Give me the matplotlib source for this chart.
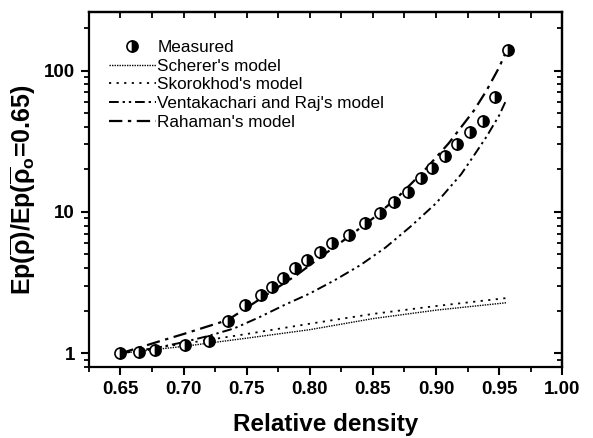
import matplotlib
matplotlib.use("Agg")
import matplotlib.pyplot as plt
from matplotlib.ticker import MultipleLocator, LogLocator, NullFormatter, FixedLocator

plt.rcParams["font.family"] = ["Liberation Sans", "DejaVu Sans"]
plt.rcParams["mathtext.fontset"] = "custom"
plt.rcParams["mathtext.rm"] = "Liberation Sans:bold"
plt.rcParams["mathtext.it"] = "Liberation Sans:bold"
plt.rcParams["mathtext.bf"] = "Liberation Sans:bold"

# Measured normalized modulus
measured_x = [0.650, 0.665, 0.677, 0.701, 0.720, 0.735, 0.749, 0.761, 0.770, 0.779,
              0.788, 0.798, 0.808, 0.818, 0.831, 0.844, 0.856, 0.867, 0.878, 0.888,
              0.897, 0.907, 0.917, 0.927, 0.937, 0.947, 0.957]
measured_y = [1.00, 1.03, 1.06, 1.14, 1.22, 1.69, 2.19, 2.60, 2.95, 3.40,
              4.00, 4.55, 5.20, 6.00, 6.90, 8.30, 9.80, 11.8, 13.9, 17.3,
              20.6, 24.7, 30.0, 36.5, 44.0, 65.0, 140.0]

# Model curves
scherer_x = [0.65, 0.70, 0.75, 0.80, 0.85, 0.90, 0.956]
scherer_y = [1.00, 1.12, 1.28, 1.47, 1.76, 2.02, 2.28]

skorokhod_x = [0.65, 0.70, 0.75, 0.80, 0.85, 0.90, 0.956]
skorokhod_y = [1.00, 1.17, 1.37, 1.62, 1.90, 2.16, 2.46]

ventakachari_x = [0.65, 0.68, 0.70, 0.72, 0.74, 0.76, 0.78, 0.80, 0.82, 0.84,
                  0.86, 0.88, 0.90, 0.92, 0.93, 0.94, 0.95, 0.955]
ventakachari_y = [1.00, 1.10, 1.20, 1.33, 1.50, 1.80, 2.20, 2.65, 3.30, 4.20,
                  5.60, 7.90, 11.5, 18.5, 25.0, 34.0, 48.0, 60.0]

rahaman_x = [0.65, 0.68, 0.70, 0.72, 0.735, 0.75, 0.77, 0.79, 0.81, 0.83,
             0.85, 0.87, 0.89, 0.91, 0.93, 0.94, 0.95, 0.957]
rahaman_y = [1.00, 1.21, 1.37, 1.56, 1.72, 2.10, 2.75, 3.60, 4.90, 6.60,
             9.00, 12.8, 19.3, 30.5, 52.0, 72.0, 105.0, 145.0]

x_ticks = [0.65, 0.70, 0.75, 0.80, 0.85, 0.90, 0.95, 1.00]
x_tick_labels = ["0.65", "0.70", "0.75", "0.80", "0.85", "0.90", "0.95", "1.00"]
y_ticks = [1, 10, 100]
y_tick_labels = ["1", "10", "100"]

fig = plt.figure(figsize=(5.93, 4.38), dpi=100)
ax = fig.add_axes([0.150, 0.162, 0.798, 0.811])

ax.plot(scherer_x, scherer_y, color="black", lw=1.0, ls=(0, (1, 0.8)),
        label="Scherer's model")
ax.plot(skorokhod_x, skorokhod_y, color="black", lw=1.3, ls=(0, (1.2, 3.0)),
        label="Skorokhod's model")
ax.plot(ventakachari_x, ventakachari_y, color="black", lw=1.4,
        ls=(0, (5, 2, 1.2, 2, 1.2, 2)), label="Ventakachari and Raj's model")
ax.plot(rahaman_x, rahaman_y, color="black", lw=1.6, ls=(0, (6, 2.5, 1.5, 2.5)),
        label="Rahaman's model")
ax.plot(measured_x, measured_y, ls="none", marker="o", ms=8.0, fillstyle="right",
        markerfacecolor="black", markerfacecoloralt="white",
        markeredgecolor="black", markeredgewidth=1.2, label="Measured")

ax.set_yscale("log")
ax.set_xlim(0.625, 1.0)
ax.set_ylim(0.8, 260)

ax.xaxis.set_major_locator(FixedLocator(x_ticks))
ax.set_xticklabels(x_tick_labels)
ax.xaxis.set_minor_locator(MultipleLocator(0.025))
ax.yaxis.set_major_locator(FixedLocator(y_ticks))
ax.set_yticklabels(y_tick_labels)
ax.yaxis.set_minor_locator(LogLocator(base=10, subs=range(2, 10)))
ax.yaxis.set_minor_formatter(NullFormatter())

ax.tick_params(which="major", direction="out", length=6, width=1.5,
               labelsize=13.5, pad=4)
ax.tick_params(which="minor", direction="out", length=3.5, width=1.3)
for lbl in ax.get_xticklabels() + ax.get_yticklabels():
    lbl.set_fontweight("bold")

for sp in ax.spines.values():
    sp.set_linewidth(1.6)

# Inward ticks on the top and right frame edges
top = ax.secondary_xaxis("top")
top.xaxis.set_major_locator(FixedLocator(x_ticks))
top.xaxis.set_minor_locator(MultipleLocator(0.025))
top.tick_params(which="both", direction="in", length=4, width=1.3,
                labeltop=False)
top.spines["top"].set_linewidth(1.6)

right = ax.secondary_yaxis("right")
right.yaxis.set_major_locator(FixedLocator(y_ticks))
right.yaxis.set_minor_locator(LogLocator(base=10, subs=range(2, 10)))
right.yaxis.set_minor_formatter(NullFormatter())
right.tick_params(which="major", direction="in", length=6, width=1.5,
                  labelright=False)
right.tick_params(which="minor", direction="in", length=3.5, width=1.3,
                  labelright=False)
right.spines["right"].set_linewidth(1.6)

ax.set_xlabel("Relative density", fontsize=17.5, fontweight="bold", labelpad=11)
ax.set_ylabel(r"Ep($\overline{\rho}$)/Ep($\overline{\rho}_{\rm o}$=0.65)",
              fontsize=18, fontweight="bold", labelpad=4)

handles, labels = ax.get_legend_handles_labels()
order = [4, 0, 1, 2, 3]
leg = ax.legend([handles[i] for i in order], [labels[i] for i in order],
                loc="upper left", bbox_to_anchor=(0.02, 0.95), frameon=False,
                fontsize=12.3, handlelength=2.75, handletextpad=0.1,
                labelspacing=0.22, borderaxespad=0.2)

fig.savefig("out.png", dpi=100)
